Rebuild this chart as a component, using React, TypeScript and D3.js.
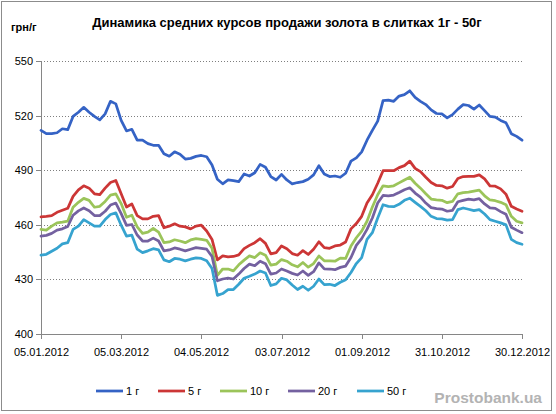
import React from "react";
import * as d3 from "d3";

// sample dates (every 4 days)
const dates = [
  "2012-01-05", "2012-01-09", "2012-01-13", "2012-01-17", "2012-01-21", "2012-01-25", "2012-01-29",
  "2012-02-02", "2012-02-06", "2012-02-10", "2012-02-14", "2012-02-18", "2012-02-22", "2012-02-26",
  "2012-03-01", "2012-03-05", "2012-03-09", "2012-03-13", "2012-03-17", "2012-03-21", "2012-03-25",
  "2012-03-29", "2012-04-02", "2012-04-06", "2012-04-10", "2012-04-14", "2012-04-18", "2012-04-22",
  "2012-04-26", "2012-04-30", "2012-05-04", "2012-05-08", "2012-05-12", "2012-05-16", "2012-05-20",
  "2012-05-24", "2012-05-28", "2012-06-01", "2012-06-05", "2012-06-09", "2012-06-13", "2012-06-17",
  "2012-06-21", "2012-06-25", "2012-06-29", "2012-07-03", "2012-07-07", "2012-07-11", "2012-07-15",
  "2012-07-19", "2012-07-23", "2012-07-27", "2012-07-31", "2012-08-04", "2012-08-08", "2012-08-12",
  "2012-08-16", "2012-08-20", "2012-08-24", "2012-08-28", "2012-09-01", "2012-09-05", "2012-09-09",
  "2012-09-13", "2012-09-17", "2012-09-21", "2012-09-25", "2012-09-29", "2012-10-03", "2012-10-07",
  "2012-10-11", "2012-10-15", "2012-10-19", "2012-10-23", "2012-10-27", "2012-10-31", "2012-11-04",
  "2012-11-08", "2012-11-12", "2012-11-16", "2012-11-20", "2012-11-24", "2012-11-28", "2012-12-02",
  "2012-12-06", "2012-12-10", "2012-12-14", "2012-12-18", "2012-12-22", "2012-12-26", "2012-12-30",
];

const g1 = [
  511.8, 510, 510, 510.5, 512.7, 512.2, 519.5, 521.8, 524.5, 521.8, 519.5, 517.6, 520.9, 527.8, 526.4,
  517.3, 511.5, 512.4, 506.4, 506.4, 504.5, 503.6, 503.6, 499, 497.6, 500, 498.7, 496, 496.4, 497.5, 498,
  497.3, 492.7, 484.9, 482.4, 484.5, 484.2, 483.6, 487.8, 486.7, 488.5, 493.1, 491.5, 486.4, 484.5, 487.6,
  484.5, 482.4, 483.1, 483.6, 484.9, 487.3, 492.4, 487.8, 486.4, 486.7, 486, 488.2, 494.9, 496.7, 500,
  506.4, 511.8, 516.9, 528.2, 528.5, 527.8, 530.7, 531.5, 533.6, 530, 527.8, 526, 523.1, 521.1, 520.9,
  518.7, 520.5, 523.5, 526, 525.5, 523.5, 525.8, 522.7, 519.5, 519.1, 517.3, 516, 510, 508.5, 506.4,
];

const g5 = [
  464.2, 464.5, 464.9, 466.7, 467.8, 468.9, 475.5, 479.1, 481.3, 480, 476.9, 476.4, 480, 483.1, 484.2,
  476.9, 469.6, 471.3, 464.9, 463.1, 463.1, 464.5, 464.9, 458.2, 459.1, 460.4, 459.1, 458.7, 457.6, 459.1, 459.6,
  456.4, 451.8, 440.5, 442.7, 442.2, 442.4, 443.3, 446.7, 448.5, 450, 452.2, 449.6, 443.8, 444.5, 448.2,
  446.7, 444, 443.1, 445.6, 443.5, 446.4, 450.5, 447.3, 446.9, 448.2, 448.7, 450.4, 457.6, 460.5, 464.5,
  471.8, 476.4, 482.7, 489.6, 489.6, 489.6, 491.3, 492.4, 494.9, 490.9, 489.1, 486, 483.1, 481.5, 481.3,
  480, 480.9, 485.3, 486.4, 486.5, 486.5, 487.3, 485.1, 481.3, 481.1, 479.6, 476.7, 470, 468.5, 467.3,
];

const g10 = [
  457.3, 456.9, 459.1, 460.9, 461.3, 461.8, 469.5, 472.2, 474.4, 473.3, 469.5, 470, 472.7, 476.2, 476.9,
  471.5, 464, 465.1, 458.7, 455.1, 455.8, 457.8, 455.8, 450, 450.4, 451.6, 450.9, 450, 451.5, 452.2, 451.8,
  451.3, 446.9, 432, 435.5, 435.5, 434.5, 437.8, 440.4, 442.7, 441.8, 444.4, 443.1, 437.6, 438.2, 440.7,
  439.8, 437.8, 436.7, 439.1, 436.5, 438.5, 442.7, 440, 440, 439.8, 441.5, 441.3, 448.2, 452.7, 456.4,
  461.8, 469.6, 476.4, 481.3, 480.9, 481.3, 482.9, 484.5, 486, 482.7, 480, 476.9, 474, 473.5, 473.3,
  472, 472.7, 476.9, 477.5, 477.8, 478.4, 478.9, 475.8, 473.5, 473.1, 472.2, 470.9, 464.5, 461.8, 460.9,
];

const g20 = [
  453.6, 454, 455.1, 456.9, 457.6, 458.9, 465.1, 467.5, 469.1, 467.6, 464.9, 464.9, 467.3, 470.7, 471.8,
  466, 459.5, 460, 454.2, 450.9, 450.9, 452.5, 450.9, 445.5, 446, 447.1, 446.4, 445.5, 446.4, 447.3, 446.9,
  446.4, 442.4, 429, 430, 430.5, 430, 432.7, 435.8, 438.2, 437.3, 439.8, 438.4, 432.7, 433.3, 435.5,
  434.4, 433.1, 432.2, 434.4, 432, 434, 438.9, 435.6, 435.5, 435.1, 436.4, 437.1, 441.8, 448.5, 452.2,
  457.3, 463.6, 471.8, 476, 475.8, 476.2, 477.6, 479.1, 480.2, 477.3, 475.1, 471.8, 469.3, 468.7, 468.5,
  467.3, 467.8, 472.5, 473.3, 474, 473.6, 474.2, 471.3, 469.1, 468.9, 467.1, 465.6, 458.5, 456.9, 455.5,
];

const g50 = [
  443.1, 443.6, 445.3, 446.9, 449.3, 450, 457.3, 459.1, 462.7, 460.9, 459.1, 459.1, 462.7, 465.5, 466.4,
  459.6, 453.6, 454.1, 446.4, 444.5, 445.5, 446.7, 446, 440.5, 439.5, 441.3, 440.9, 440, 440.9, 441.6, 441.3,
  440, 435.8, 421, 422, 424.2, 424.2, 427.1, 430.4, 431.5, 432.7, 434.4, 433.3, 426.4, 427.3, 430.4,
  429.5, 426.7, 424.2, 426, 423.8, 426, 430, 426.9, 427.1, 426.4, 428.2, 429.6, 433.6, 438.5, 441.8,
  451.8, 455.5, 463.6, 470.9, 470, 469.8, 471.1, 473.3, 474.5, 472.2, 470, 467.6, 464.5, 463.3, 463.1,
  462.4, 462.7, 468.2, 469.1, 468.4, 467.6, 468.2, 465.8, 462.7, 461.8, 460.9, 459.8, 451.8, 450, 449.1,
];

const seriesNames = ["1 г", "5 г", "10 г", "20 г", "50 г"];
const seriesValues = [g1, g5, g10, g20, g50];
const colors = ["#3563c5", "#cc3636", "#9bc45a", "#7461a0", "#36a3cf"];

const xTicks = ["2012-01-05", "2012-03-05", "2012-05-04", "2012-07-03", "2012-09-01", "2012-10-31", "2012-12-30"];
const yTicks = [400, 430, 460, 490, 520, 550];

const title = "Динамика средних курсов продажи золота в слитках 1г - 50г";
const unit = "грн/г";

const font = "'Liberation Sans', Arial, sans-serif";

const App: React.FC = () => {
  const parse = d3.utcParse("%Y-%m-%d");
  const fmt = d3.utcFormat("%d.%m.%Y");
  const x = d3
    .scaleUtc()
    .domain([parse(xTicks[0])!, parse(xTicks[xTicks.length - 1])!])
    .range([41, 522]);
  const y = d3.scaleLinear().domain([400, 550]).range([333.5, 61]);

  const parsed = dates.map((d) => parse(d)!);
  const line = d3
    .line<number>()
    .x((_, i) => x(parsed[i]))
    .y((v) => y(v));

  const legendX = [96, 158, 220, 288, 357];

  return (
    <svg
      width={556}
      height={414}
      style={{ position: "absolute", left: 0, top: 0, background: "#fff" }}
      fontFamily={font}
    >
      <rect x={1.5} y={1.5} width={550} height={409} fill="#fff" stroke="#8c8c8c" strokeWidth={1} />

      <text x={287} y={27} textAnchor="middle" fontSize={13} fontWeight="bold" fill="#000">
        {title}
      </text>
      <text x={11} y={31} fontSize={11} fontWeight="bold" fill="#000">
        {unit}
      </text>

      {/* grid */}
      {yTicks
        .filter((t) => t !== 400)
        .map((t) => (
          <line
            key={"g" + t}
            x1={41}
            x2={522}
            y1={Math.round(y(t)) + 0.5}
            y2={Math.round(y(t)) + 0.5}
            stroke="#7f7f7f"
            strokeDasharray="1,2"
          />
        ))}

      {/* y axis */}
      <line x1={41.5} x2={41.5} y1={61} y2={334} stroke="#868686" />
      {yTicks.map((t) => (
        <g key={"y" + t}>
          <line x1={36} x2={41} y1={Math.round(y(t)) + 0.5} y2={Math.round(y(t)) + 0.5} stroke="#868686" />
          <text x={33} y={y(t) + 4} textAnchor="end" fontSize={11} fill="#000">
            {t}
          </text>
        </g>
      ))}

      {/* x axis */}
      <line x1={36} x2={522} y1={334.5} y2={334.5} stroke="#868686" />
      {xTicks.map((t) => {
        const px = Math.round(x(parse(t)!)) + 0.5;
        return (
          <g key={"x" + t}>
            <line x1={px} x2={px} y1={334} y2={339} stroke="#868686" />
            <text x={px} y={356} textAnchor="middle" fontSize={11} fill="#000">
              {fmt(parse(t)!)}
            </text>
          </g>
        );
      })}

      {/* series */}
      {seriesValues.map((vals, i) => (
        <path
          key={"s" + i}
          d={line(vals) || ""}
          fill="none"
          stroke={colors[i]}
          strokeWidth={2.75}
          strokeLinejoin="round"
          strokeLinecap="round"
        />
      ))}

      {/* legend */}
      {seriesNames.map((n, i) => (
        <g key={"l" + n}>
          <line x1={legendX[i]} x2={legendX[i] + 27} y1={391} y2={391} stroke={colors[i]} strokeWidth={2.75} />
          <text x={legendX[i] + 30} y={395} fontSize={11} fill="#000">
            {n}
          </text>
        </g>
      ))}

      <text x={542} y={403} textAnchor="end" fontSize={15.5} fontWeight="bold" fill="#b3b3b3">
        Prostobank.ua
      </text>
    </svg>
  );
};

export default App;
